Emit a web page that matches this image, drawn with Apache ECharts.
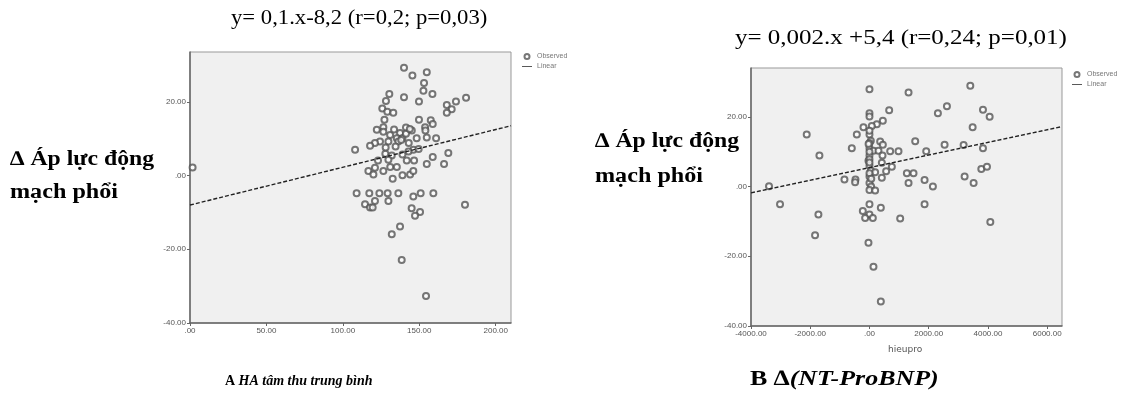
<!DOCTYPE html>
<html>
<head>
<meta charset="utf-8">
<script src="https://cdn.jsdelivr.net/npm/echarts@6/dist/echarts.min.js"></script>
<style>
    html, body { margin: 0; padding: 0; background: #fff; }
    #chart { width: 1123px; height: 397px; }
</style>
</head>
<body>
<div id="chart"></div>
<script>
// A: HA tam thu trung binh vs delta ALDMP
const observedA = [
    [1.7, 2.2], [140, 29.2], [154.9, 28], [145.5, 27.1], [153.1, 25.1], [152.7, 23],
    [158.6, 22.1], [130.4, 22.1], [140, 21.2], [128.2, 20.2], [149.8, 20.1], [180.6, 21.1],
    [174, 20.1], [168, 19.1], [171.2, 18], [168, 17], [125.8, 18.2], [129.1, 17.3],
    [133, 17], [127.2, 15.1], [149.8, 15.1], [157.5, 15], [158.8, 14], [126.5, 13.1],
    [122.2, 12.4], [141.3, 13], [145.1, 12.2], [153.8, 13.1], [154, 12.2], [137.4, 11.5],
    [130.9, 11], [135.3, 10.1], [139, 10.1], [141.3, 11.3], [148.3, 10.1], [154.9, 10.3],
    [161, 10.1], [124.3, 9.2], [121, 8.8], [129.8, 9.2], [136.3, 9.2], [117.8, 8.1],
    [143.1, 8.8], [146.1, 7], [149.6, 7.2], [108, 7], [142.9, 6.5], [127.8, 5.9],
    [132, 5.4], [139, 5.7], [123, 4.1], [129.8, 4.3], [141.8, 4.1], [146.6, 4.1],
    [158.8, 5], [169, 6.1], [166.2, 3.1], [154.9, 3.1], [131, 2.3], [135.3, 2.3],
    [121, 2.1], [116.7, 1.2], [120, 0.3], [126.5, 1.2], [139, 0.1], [144, 0.3],
    [146.1, 1.2], [132.6, -0.9], [109, -4.8], [117.3, -4.8], [123.9, -4.8], [129.3, -4.8],
    [136.3, -4.8], [146.1, -5.7], [150.9, -4.8], [159.2, -4.8], [121, -6.9], [129.8, -6.9],
    [114.5, -7.8], [117.8, -8.7], [119.5, -8.7], [145, -8.9], [150.5, -9.9], [147.2, -10.9],
    [179.9, -7.9], [137.4, -13.8], [132, -15.9], [138.5, -22.9], [154.4, -32.7],
    [126.5, 11.9], [133.5, 12.5], [138.2, 9.6], [143.8, 12.6], [128, 7.6], [134.5, 7.9]
]
const linearA = [[0, -8.0], [210, 13.5]]

// B: delta NT-ProBNP vs delta ALDMP
const observedB = [
    [0, 27.9], [1319, 27], [3404, 28.9], [2615, 23], [2310, 21], [665, 21.9],
    [0, 21], [0, 20.1], [3832, 22], [4057, 20], [3483, 17], [451, 18.9],
    [248, 17.9], [79, 17.4], [-203, 17], [-2119, 14.9], [-428, 14.9], [0, 14.9],
    [45, 13.1], [361, 12.9], [451, 12], [-597, 11], [0, 11], [135, 10.3],
    [304, 10.3], [699, 10.1], [980, 10.1], [1544, 13], [1916, 10.1], [2536, 12],
    [3178, 11.9], [3832, 11], [-1690, 8.9], [0, 8.9], [440, 8.9], [-34, 7.4],
    [417, 6.8], [755, 5.7], [0, 6], [45, 4.6], [191, 4.1], [563, 4.4],
    [1262, 3.8], [1487, 3.8], [0, 2.9], [417, 2.5], [-845, 2], [-473, 2],
    [-485, 1.2], [0, 1], [56, 0], [1319, 1], [1860, 1.9], [2141, 0],
    [3212, 2.9], [3516, 1], [3776, 5], [3967, 5.7], [-3392, 0.1], [0, -1],
    [191, -1.1], [-3020, -5.1], [0, -5.1], [383, -6.1], [1860, -5.1], [-1724, -8],
    [-225, -7], [0, -8], [-146, -9], [113, -9], [1037, -9.2], [4080, -10.2],
    [-1837, -14], [-34, -16.1], [135, -23], [383, -33],
    [0, 12.5], [0, 10], [0, 7.8], [0, 6.9], [0, 3.8], [60, 2.2], [-30, 12.2], [0, 16]
]
const linearB = [[-4000, -1.8], [6500, 17.2]]

const ticksY = [-40, -20, 0, 20]

const spssLabel = (v) => (v === 0 ? '.00' : v.toFixed(2))

const serif = 'Liberation Serif'
const axisGray = '#666'

const makeXAxis = (gridIndex, min, max, interval) => ({
    gridIndex,
    type: 'value',
    min,
    max,
    interval,
    axisLine: { show: true, onZero: false, lineStyle: { color: axisGray, width: 1.5 } },
    axisTick: { show: true, length: 3, lineStyle: { color: axisGray } },
    axisLabel: {
        showMaxLabel: false,
        fontSize: 8,
        color: '#555',
        margin: 4,
        formatter: spssLabel
    },
    splitLine: { show: false }
})

const makeYAxis = (gridIndex, max) => ({
    gridIndex,
    type: 'value',
    min: ticksY[0],
    max,
    interval: 20,
    axisLine: { show: true, onZero: false, lineStyle: { color: axisGray, width: 1.5 } },
    axisTick: { show: true, length: 3, lineStyle: { color: axisGray } },
    axisLabel: {
        showMaxLabel: false,
        showMinLabel: true,
        fontSize: 8,
        color: '#555',
        margin: 4,
        formatter: spssLabel
    },
    splitLine: { show: false }
})

const scatterSeries = (idx, data) => ({
    name: 'Observed',
    type: 'scatter',
    xAxisIndex: idx,
    yAxisIndex: idx,
    symbol: 'emptyCircle',
    symbolSize: 6,
    itemStyle: { color: '#555', borderColor: '#555', borderWidth: 0.7 },
    data
})

const lineSeries = (idx, data) => ({
    name: 'Linear',
    type: 'line',
    xAxisIndex: idx,
    yAxisIndex: idx,
    symbol: 'none',
    lineStyle: { color: '#222', width: 1.4, type: [4, 2] },
    itemStyle: { color: '#222' },
    data
})

const legendAt = (left, top) => ({
    left,
    top,
    orient: 'vertical',
    itemWidth: 10,
    itemHeight: 5,
    itemGap: 3,
    textStyle: { fontSize: 7, color: '#777' },
    data: [
        { name: 'Observed', icon: 'emptyCircle' },
        { name: 'Linear', icon: 'path://M0,0H20V1.5H0Z' }
    ]
})

// plain text placed at a point, a little stretched sideways like the source scan
const label = (x, y, text, font, sx = 1) => ({
    type: 'text',
    x,
    y,
    scaleX: sx,
    style: { text, font, fill: '#000' }
})

const chart = echarts.init(document.getElementById('chart'))

chart.setOption({
    backgroundColor: '#fff',
    animation: false,
    grid: [
        { left: 190, top: 52, width: 321, height: 271, show: true, backgroundColor: '#f0f0f0', borderColor: '#999', borderWidth: 1 },
        { left: 751, top: 68, width: 311, height: 258, show: true, backgroundColor: '#f0f0f0', borderColor: '#999', borderWidth: 1 }
    ],
    xAxis: [
        makeXAxis(0, 0, 210, 50),
        makeXAxis(1, -4000, 6500, 2000)
    ],
    yAxis: [
        makeYAxis(0, 33.5),
        makeYAxis(1, 34)
    ],
    legend: [
        legendAt(517, 48),
        legendAt(1067, 66)
    ],
    series: [
        scatterSeries(0, observedA),
        lineSeries(0, linearA),
        scatterSeries(1, observedB),
        lineSeries(1, linearB)
    ],
    graphic: [
        label(231, 8, 'y= 0,1.x-8,2 (r=0,2; p=0,03)', `21px "${serif}"`, 1.08),
        label(735, 28, 'y= 0,002.x +5,4 (r=0,24; p=0,01)', `21px "${serif}"`, 1.19),
        label(10, 149, '∆ Áp lực động', `bold 21px "${serif}"`, 1.13),
        label(10, 182, 'mạch phổi', `bold 21px "${serif}"`, 1.15),
        label(595, 131, '∆ Áp lực động', `bold 21px "${serif}"`, 1.13),
        label(595, 166, 'mạch phổi', `bold 21px "${serif}"`, 1.15),
        {
            type: 'text', left: 888, top: 345,
            style: { text: 'hieupro', font: '9px "DejaVu Sans"', fill: '#555' }
        },
        {
            type: 'text', x: 225, y: 374,
            style: {
                text: '{a|A }{b|HA tâm thu trung bình}',
                rich: {
                    a: { font: `bold 14px "${serif}"`, fill: '#000' },
                    b: { font: `italic bold 14px "${serif}"`, fill: '#000' }
                }
            }
        },
        {
            type: 'text', x: 750, y: 368, scaleX: 1.18,
            style: {
                text: '{a|B ∆}{b|(NT-ProBNP)}',
                rich: {
                    a: { font: `bold 22px "${serif}"`, fill: '#000' },
                    b: { font: `italic bold 22px "${serif}"`, fill: '#000' }
                }
            }
        }
    ]
})
</script>
</body>
</html>
